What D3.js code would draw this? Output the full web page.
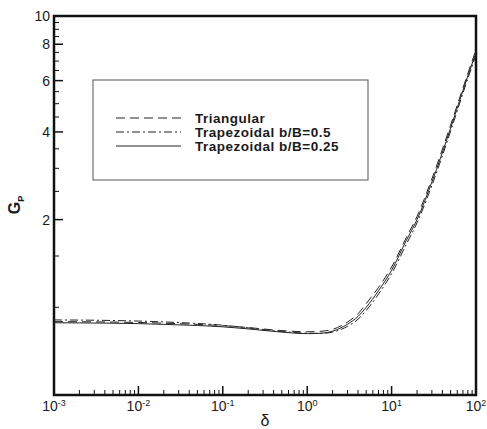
<!DOCTYPE html>
<html>
<head>
<meta charset="utf-8">
<script src="https://cdn.jsdelivr.net/npm/d3@7"></script>
<style>
  body { margin: 0; background: #fff; }
  svg text { font-family: "Liberation Sans", Arial, sans-serif; fill: #1a1a1a; }
</style>
</head>
<body>
<div id="chart"></div>
<script>
var width = 487;
var height = 429;

// delta values (x) and G_P for each section shape
var delta = [0.001, 0.002, 0.005, 0.01, 0.02, 0.05, 0.1, 0.2, 0.5, 1, 1.5, 2, 3, 4, 5, 7, 10, 15, 20, 30, 50, 70, 100];
var triangular = [0.893, 0.892, 0.890, 0.887, 0.882, 0.874, 0.865, 0.852, 0.832, 0.824, 0.828, 0.840, 0.89, 0.95, 1.03, 1.17, 1.375, 1.74, 2.05, 2.76, 4.22, 5.66, 7.65];
var trap05 = [0.905, 0.904, 0.901, 0.897, 0.891, 0.880, 0.868, 0.850, 0.826, 0.815, 0.814, 0.822, 0.86, 0.91, 0.975, 1.11, 1.305, 1.65, 1.95, 2.62, 4.02, 5.43, 7.35];
var trap025 = [0.885, 0.884, 0.882, 0.879, 0.874, 0.866, 0.857, 0.843, 0.822, 0.812, 0.815, 0.828, 0.875, 0.93, 1.0, 1.14, 1.34, 1.70, 2.0, 2.69, 4.12, 5.55, 7.5];

var seriesNames = ["Triangular", "Trapezoidal b/B=0.5", "Trapezoidal b/B=0.25"];
var seriesDash = ["9,5", "8,3,2,3", null];

var xMajor = [1e-3, 1e-2, 1e-1, 1, 10, 100];
var xExp = ["-3", "-2", "-1", "0", "1", "2"];
var yMajor = [2, 4, 6, 8, 10];
var yMinor = [1, 1.5, 2.5, 3, 3.5, 4.5, 5, 5.5, 6.5, 7, 7.5, 8.5, 9, 9.5];

var margin = {left: 54, right: 11, top: 16, bottom: 34};

var svg = d3.select("#chart").append("svg")
  .attr("width", width)
  .attr("height", height);

var x = d3.scaleLog()
  .domain([1e-3, 100])
  .range([margin.left, width - margin.right]);

var y = d3.scaleLog()
  .domain([0.5, 10])
  .range([height - margin.bottom, margin.top]);

var x0 = margin.left, x1 = width - margin.right;
var y0 = height - margin.bottom, y1 = margin.top;

// minor x ticks: 2..9 in every decade
var xMinor = [];
for (var e = -3; e < 2; e++) {
  for (var m = 2; m <= 9; m++) xMinor.push(m * Math.pow(10, e));
}

var tickColor = "#111";

svg.selectAll(".xminor")
  .data(xMinor).enter()
  .append("line")
  .attr("x1", function(d) { return x(d); })
  .attr("x2", function(d) { return x(d); })
  .attr("y1", y0)
  .attr("y2", y0 - 5)
  .attr("stroke", tickColor)
  .attr("stroke-width", 1);

svg.selectAll(".xmajor")
  .data(xMajor).enter()
  .append("line")
  .attr("x1", function(d) { return x(d); })
  .attr("x2", function(d) { return x(d); })
  .attr("y1", y0)
  .attr("y2", y0 - 9)
  .attr("stroke", tickColor)
  .attr("stroke-width", 1.5);

svg.selectAll(".yminor")
  .data(yMinor).enter()
  .append("line")
  .attr("x1", x0)
  .attr("x2", x0 + 5)
  .attr("y1", function(d) { return y(d); })
  .attr("y2", function(d) { return y(d); })
  .attr("stroke", tickColor)
  .attr("stroke-width", 1);

svg.selectAll(".ymajor")
  .data(yMajor).enter()
  .append("line")
  .attr("x1", x0)
  .attr("x2", x0 + 9)
  .attr("y1", function(d) { return y(d); })
  .attr("y2", function(d) { return y(d); })
  .attr("stroke", tickColor)
  .attr("stroke-width", 1.5);

// frame
svg.append("rect")
  .attr("x", x0)
  .attr("y", y1)
  .attr("width", x1 - x0)
  .attr("height", y0 - y1)
  .attr("fill", "none")
  .attr("stroke", "#111")
  .attr("stroke-width", 2.5);

// y tick labels
svg.selectAll(".ylab")
  .data(yMajor).enter()
  .append("text")
  .attr("x", x0 - 4)
  .attr("y", function(d) { return y(d) + 5; })
  .attr("text-anchor", "end")
  .attr("font-size", 14)
  .text(function(d) { return d; });

// x tick labels 10^n
var xl = svg.selectAll(".xlab")
  .data(xMajor).enter()
  .append("text")
  .attr("x", function(d) { return x(d); })
  .attr("y", y0 + 16)
  .attr("text-anchor", "middle")
  .attr("font-size", 14);
xl.append("tspan").text("10");
xl.append("tspan")
  .attr("dy", -5)
  .attr("font-size", 9)
  .text(function(d, i) { return xExp[i]; });

// axis titles
svg.append("text")
  .attr("x", (x0 + x1) / 2)
  .attr("y", height - 3)
  .attr("text-anchor", "middle")
  .attr("font-size", 16)
  .text("δ");

var yt = svg.append("text")
  .attr("transform", "translate(20," + 205 + ") rotate(-90)")
  .attr("text-anchor", "middle")
  .attr("font-size", 16)
  .attr("font-weight", "bold");
yt.append("tspan").text("G");
yt.append("tspan").attr("dy", 4).attr("font-size", 9).text("P");

// curves
var line = d3.line()
  .x(function(d, i) { return x(delta[i]); })
  .y(function(d) { return y(d); })
  .curve(d3.curveMonotoneX);

var series = [triangular, trap05, trap025];

svg.selectAll(".curve")
  .data(series).enter()
  .append("path")
  .attr("d", line)
  .attr("fill", "none")
  .attr("stroke", "#222")
  .attr("stroke-width", 1)
  .attr("stroke-dasharray", function(d, i) { return seriesDash[i]; });

// legend
var legend = svg.append("g");
legend.append("rect")
  .attr("x", 93)
  .attr("y", 80)
  .attr("width", 275)
  .attr("height", 100)
  .attr("fill", "#fff")
  .attr("stroke", "#555")
  .attr("stroke-width", 1);

var rows = legend.selectAll(".row")
  .data(seriesNames).enter()
  .append("g")
  .attr("transform", function(d, i) { return "translate(0," + (118 + i * 14) + ")"; });

rows.append("line")
  .attr("x1", 116)
  .attr("x2", 181)
  .attr("y1", 0)
  .attr("y2", 0)
  .attr("stroke", "#222")
  .attr("stroke-width", 1)
  .attr("stroke-dasharray", function(d, i) { return seriesDash[i]; });

rows.append("text")
  .attr("x", 195)
  .attr("y", 4.5)
  .attr("font-size", 13.5)
  .attr("font-weight", "bold")
  .attr("letter-spacing", 0.5)
  .text(function(d) { return d; });
</script>
</body>
</html>
